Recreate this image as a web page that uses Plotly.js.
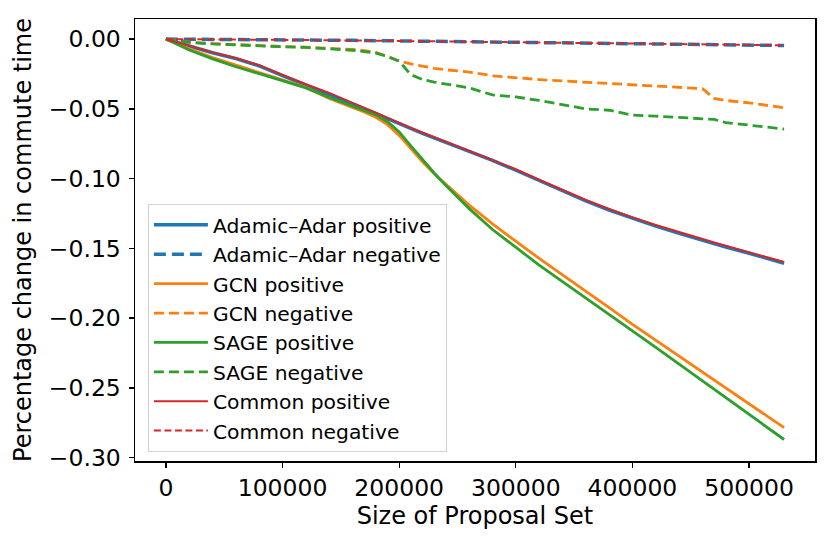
<!DOCTYPE html>
<html>
<head>
<meta charset="utf-8">
<script src="https://cdn.plot.ly/plotly-3.0.1.min.js"></script>
<style>
  body { margin: 0; background: #fff; }
  #myGraph { width: 830px; height: 545px; }
</style>
</head>
<body>
<div id="myGraph"></div>
<script>
// proposal set sizes
let sizes = [0, 10000, 20000, 40000, 60000, 80000, 100000, 120000, 140000, 160000,
    170000, 180000, 190000, 200000, 210000, 220000, 230000, 240000, 260000, 280000,
    300000, 320000, 340000, 360000, 380000, 400000, 420000, 440000, 460000, 470000,
    480000, 500000, 520000, 530000];

let adamicPos = [0, -0.0025, -0.0050, -0.0098, -0.0140, -0.0192, -0.0262, -0.0330, -0.0392, -0.0462,
    -0.0497, -0.0533, -0.0570, -0.0607, -0.0643, -0.0676, -0.0708, -0.0740, -0.0805, -0.0870,
    -0.0940, -0.1015, -0.1090, -0.1160, -0.1225, -0.1285, -0.1340, -0.1392, -0.1442, -0.1466,
    -0.1490, -0.1535, -0.1583, -0.1607];

let adamicNeg = [0, -0.0001, -0.0002, -0.0003, -0.0004, -0.0005, -0.0006, -0.0007, -0.0008, -0.0009,
    -0.0010, -0.0011, -0.0012, -0.0013, -0.0014, -0.0015, -0.0016, -0.0017, -0.0019, -0.0021,
    -0.0023, -0.0025, -0.0027, -0.0029, -0.0031, -0.0033, -0.0035, -0.0037, -0.0039, -0.0040,
    -0.0041, -0.0043, -0.0045, -0.0046];

let gcnPos = [0, -0.0035, -0.0070, -0.0132, -0.0188, -0.0240, -0.0292, -0.0346, -0.0425, -0.0488,
    -0.0522, -0.0560, -0.0613, -0.0690, -0.0785, -0.0880, -0.0965, -0.1042, -0.1190, -0.1325,
    -0.1450, -0.1572, -0.1690, -0.1805, -0.1925, -0.2045, -0.2159, -0.2273, -0.2387, -0.2444,
    -0.2501, -0.2615, -0.2728, -0.2785];

let gcnNeg = [0, -0.0012, -0.0022, -0.0032, -0.0040, -0.0047, -0.0053, -0.0058, -0.0064, -0.0074,
    -0.0082, -0.0095, -0.0125, -0.0158, -0.0178, -0.0196, -0.0210, -0.0220, -0.0236, -0.0263,
    -0.0279, -0.0290, -0.0300, -0.0309, -0.0317, -0.0325, -0.0333, -0.0341, -0.0355, -0.0425,
    -0.0440, -0.0457, -0.0478, -0.0492];

let sagePos = [0, -0.0040, -0.0078, -0.0142, -0.0198, -0.0248, -0.0297, -0.0350, -0.0418, -0.0478,
    -0.0510, -0.0543, -0.0592, -0.0665, -0.0765, -0.0865, -0.0960, -0.1050, -0.1215, -0.1365,
    -0.1495, -0.1620, -0.1738, -0.1855, -0.1970, -0.2090, -0.2210, -0.2330, -0.2450, -0.2510,
    -0.2570, -0.2690, -0.2810, -0.2870];

let sageNeg = [0, -0.0013, -0.0024, -0.0035, -0.0043, -0.0050, -0.0055, -0.0060, -0.0069, -0.0080,
    -0.0090, -0.0100, -0.0125, -0.0158, -0.0255, -0.0290, -0.0308, -0.0322, -0.0350, -0.0400,
    -0.0414, -0.0440, -0.0470, -0.0500, -0.0510, -0.0545, -0.0552, -0.0560, -0.0568, -0.0576,
    -0.0598, -0.0618, -0.0637, -0.0645];

let commonPos = [0, -0.0024, -0.0048, -0.0095, -0.0136, -0.0187, -0.0256, -0.0324, -0.0386, -0.0456,
    -0.0491, -0.0527, -0.0564, -0.0601, -0.0637, -0.0670, -0.0702, -0.0734, -0.0799, -0.0864,
    -0.0933, -0.1008, -0.1083, -0.1153, -0.1218, -0.1278, -0.1332, -0.1384, -0.1434, -0.1458,
    -0.1481, -0.1526, -0.1574, -0.1598];

let commonNeg = [0, -0.0001, -0.0002, -0.0003, -0.0004, -0.0005, -0.0006, -0.0007, -0.0008, -0.0009,
    -0.0010, -0.0011, -0.0012, -0.0013, -0.0014, -0.0015, -0.0016, -0.0017, -0.0019, -0.0021,
    -0.0022, -0.0024, -0.0026, -0.0028, -0.0030, -0.0032, -0.0034, -0.0036, -0.0038, -0.0039,
    -0.0040, -0.0042, -0.0043, -0.0044];

let xTicks = [0, 100000, 200000, 300000, 400000, 500000];
let yTicks = [0, -0.05, -0.10, -0.15, -0.20, -0.25, -0.30];

let blue = '#1f77b4', orange = '#ff7f0e', green = '#2ca02c', red = '#d62728';

let data = [
    {x: sizes, y: adamicPos, name: 'Adamic–Adar positive', mode: 'lines',
     line: {color: blue, width: 3.5}},
    {x: sizes, y: adamicNeg, name: 'Adamic–Adar negative', mode: 'lines',
     line: {color: blue, width: 3.5, dash: '12px,6px'}},
    {x: sizes, y: gcnPos, name: 'GCN positive', mode: 'lines',
     line: {color: orange, width: 2.8}},
    {x: sizes, y: gcnNeg, name: 'GCN negative', mode: 'lines',
     line: {color: orange, width: 2.8, dash: '10px,5px'}},
    {x: sizes, y: sagePos, name: 'SAGE positive', mode: 'lines',
     line: {color: green, width: 2.8}},
    {x: sizes, y: sageNeg, name: 'SAGE negative', mode: 'lines',
     line: {color: green, width: 2.8, dash: '10px,5px'}},
    {x: sizes, y: commonPos, name: 'Common positive', mode: 'lines',
     line: {color: red, width: 2}},
    {x: sizes, y: commonNeg, name: 'Common negative', mode: 'lines',
     line: {color: red, width: 2, dash: '7px,3.5px'}}
];

let axisCommon = {
    showline: true, linecolor: '#000', linewidth: 1.5, mirror: true,
    ticks: 'outside', ticklen: 5, tickwidth: 1.3, tickcolor: '#000',
    showgrid: false, zeroline: false, automargin: false,
    tickfont: {family: 'DejaVu Sans', size: 23.5, color: '#000'}
};

let layout = {
    width: 830, height: 545,
    margin: {l: 135, r: 15, t: 19, b: 84},
    paper_bgcolor: '#fff', plot_bgcolor: '#fff',
    font: {family: 'DejaVu Sans', color: '#000'},
    showlegend: true,
    xaxis: Object.assign({}, axisCommon, {
        range: [-26500, 556500],
        tickvals: xTicks, ticktext: xTicks.map(v => String(v)),
        title: {text: 'Size of Proposal Set', font: {size: 24}, standoff: 6}
    }),
    yaxis: Object.assign({}, axisCommon, {
        range: [-0.3024, 0.0144],
        tickvals: yTicks, tickformat: '.2f', ticklabelstandoff: 3,
        title: {text: 'Percentage change in commute time', font: {size: 24}, standoff: 10}
    }),
    legend: {
        x: 0.019, y: 0.02, xanchor: 'left', yanchor: 'bottom',
        itemwidth: 54,
        bgcolor: 'rgba(255,255,255,0.8)', bordercolor: '#d0d0d0', borderwidth: 1,
        font: {family: 'DejaVu Sans', size: 20.3, color: '#000'}
    }
};

Plotly.newPlot('myGraph', data, layout, {staticPlot: true});
</script>
</body>
</html>
